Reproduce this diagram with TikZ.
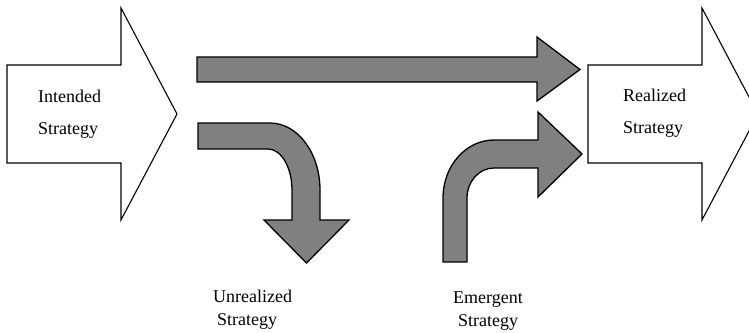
\documentclass[tikz,border=0pt]{standalone}
\usepackage{fontspec}
\setmainfont{Liberation Serif}
\begin{document}
\begin{tikzpicture}[x=1pt,y=-1pt,
  bigarrow/.style={draw=black,fill=white,line width=1.1pt,line join=miter},
  flowarrow/.style={draw=black,fill=flowgray,line width=1.3pt,line join=miter},
  lbl/.style={anchor=base west,inner sep=0pt,font=\fontsize{18}{18}\selectfont}]
\definecolor{flowgray}{RGB}{128,128,128}
\useasboundingbox (0,0) rectangle (749,332);
\clip (0,0) rectangle (749,332);

% intended strategy block arrow
\draw[bigarrow] (7,65) -- (121,65) -- (121,8) -- (177,114) -- (121,220)
  -- (121,163) -- (7,163) -- cycle;
% realized strategy block arrow (tip runs past the right edge)
\draw[bigarrow] (588,65) -- (702,65) -- (702,8) -- (758,114) -- (702,220)
  -- (702,163) -- (588,163) -- cycle;

% deliberate strategy: straight arrow
\draw[flowarrow] (197,57) -- (537,57) -- (537,37) -- (580,69.5) -- (537,101)
  -- (537,82) -- (197,82) -- cycle;

% unrealized strategy: arrow bending down
\draw[flowarrow] (198,123) -- (270,123)
  .. controls (297.6,123) and (320,153) .. (320,190)
  -- (320,220) -- (349,220) -- (306.5,263) -- (264,220) -- (292,220) -- (292,190)
  .. controls (292,167.4) and (281.2,149) .. (268,149)
  -- (198,149) -- cycle;

% emergent strategy: arrow bending up and right
\draw[flowarrow] (443,262) -- (443,198)
  .. controls (443,166) and (465.8,140) .. (494,140)
  -- (538,140) -- (538,112) -- (582,154) -- (538,197) -- (538,168) -- (494,168)
  .. controls (479.1,168) and (467,181.4) .. (467,198)
  -- (467,262) -- cycle;

% labels
\node[lbl] (intended1) at (38,102) {Intended};
\node[lbl] (intended2) at (38,134) {Strategy};
\node[lbl] (realized1) at (623,101) {Realized};
\node[lbl] (realized2) at (623,133) {Strategy};
\node[lbl] (unreal1) at (213,302) {Unrealized};
\node[lbl] (unreal2) at (217,325) {Strategy};
\node[lbl] (emerg1) at (453,303) {Emergent};
\node[lbl] (emerg2) at (458,326) {Strategy};
\end{tikzpicture}
\end{document}
